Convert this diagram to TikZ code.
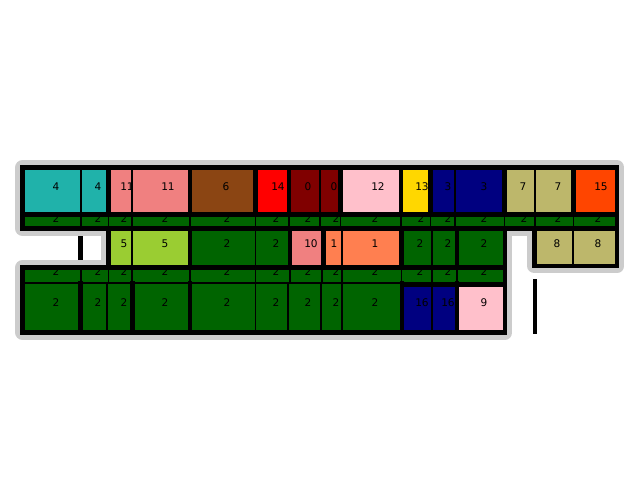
\documentclass[tikz,border=0pt]{standalone}
\usepackage{fontspec}
\setmainfont{DejaVu Sans}
\definecolor{cTeal}{HTML}{20B2AA}
\definecolor{cLCoral}{HTML}{F08080}
\definecolor{cBrown}{HTML}{8B4513}
\definecolor{cRed}{HTML}{FF0000}
\definecolor{cMaroon}{HTML}{800000}
\definecolor{cPink}{HTML}{FFC0CB}
\definecolor{cGold}{HTML}{FFD700}
\definecolor{cNavy}{HTML}{000080}
\definecolor{cKhaki}{HTML}{BDB76B}
\definecolor{cOrange}{HTML}{FF4500}
\definecolor{cYGreen}{HTML}{9ACD32}
\definecolor{cCoral}{HTML}{FF7F50}
\definecolor{cGreen}{HTML}{006400}
\begin{document}
\begin{tikzpicture}[x=0.02cm,y=-0.02cm,
    halo/.style={draw=gray!40,line width=8.4pt,line join=round},
    wall/.style={line width=2.8pt,line cap=rect},
    cell/.style={draw=black,line width=0.6pt},
    lbl/.style={font=\fontsize{6}{7}\selectfont,inner sep=0pt}]
        \useasboundingbox (0,0) rectangle (640,500);
        % grey halo round the plan
        \draw[halo] (22.5,167.5) -- (617,167.5) -- (617,266) -- (534.5,266) -- (534.5,228.5) -- (505,228.5) -- (505,332.5) -- (22.5,332.5) -- (22.5,267.5) -- (108.5,267.5) -- (108.5,228.5) -- (22.5,228.5) -- cycle;
        % top row of rooms
        \foreach \xa/\xb/\c/\lx/\t [count=\i] in {22.5/81/cTeal/56/4, 81/108.5/cTeal/98/4, 108.5/132/cLCoral/127/11, 132/190/cLCoral/168/11, 190/255.5/cBrown/226/6, 255.5/289/cRed/278/14, 289/320/cMaroon/308/0, 320/340.5/cMaroon/334/0, 340.5/401/cPink/378/12, 401/430.5/cGold/422/13, 430.5/455/cNavy/448/3, 455/504.5/cNavy/484/3, 504.5/535/cKhaki/523/7, 535/573.5/cKhaki/558/7, 573.5/617/cOrange/601/15} {
            \filldraw[cell,fill=\c] (\xa,167.5) rectangle (\xb,214.5);
            \node[lbl] (a\i) at (\lx,187) {\t};
        }
        % first corridor strip
        \foreach \xa/\xb/\lx [count=\i] in {22.5/81/56, 81/108.5/98, 108.5/132/124, 132/190/165, 190/255.5/227, 255.5/289/276, 289/320/308, 320/340.5/336, 340.5/401/375, 401/430.5/421, 430.5/455/448, 455/504.5/484, 504.5/535/524, 535/573.5/558, 573.5/617/598} {
            \filldraw[cell,fill=cGreen] (\xa,214.5) rectangle (\xb,228.5);
            \node[lbl] (s\i) at (\lx,218.5) {2};
        }
        % middle row
        \foreach \xa/\xb/\c/\lx/\t [count=\i] in {108.5/132/cYGreen/124/5, 132/190/cYGreen/165/5, 190/255.5/cGreen/227/2, 255.5/290/cGreen/276/2, 290/323.5/cLCoral/311/10, 323.5/342/cCoral/334/1, 342/401.5/cCoral/375/1, 401.5/432/cGreen/420/2, 432/457/cGreen/448/2, 457/505/cGreen/484/2, 534.5/573/cKhaki/557/8, 573/617/cKhaki/598/8} {
            \filldraw[cell,fill=\c] (\xa,228.5) rectangle (\xb,267.5);
            \node[lbl] (b\i) at (\lx,244) {\t};
        }
        % second corridor strip
        \foreach \xa/\xb/\lx [count=\i] in {22.5/81/56, 81/108.5/98, 108.5/132/124, 132/190/165, 190/255.5/227, 255.5/290/276, 290/322/308, 322/342/336, 342/401.5/375, 401.5/432/420, 432/457/448, 457/505/484} {
            \filldraw[cell,fill=cGreen] (\xa,267.5) rectangle (\xb,283);
            \node[lbl] (t\i) at (\lx,271.5) {2};
        }
        % bottom row
        \foreach \xa/\xb/\c/\lx/\t [count=\i] in {22.5/80.5/cGreen/56/2, 80.5/107/cGreen/98/2, 107/132.5/cGreen/124/2, 132.5/190/cGreen/165/2, 190/255.5/cGreen/227/2, 255.5/288/cGreen/276/2, 288/321/cGreen/308/2, 321/342/cGreen/336/2, 342/402/cGreen/375/2, 402/432/cNavy/422/16, 432/457/cNavy/448/16, 457/505/cPink/484/9} {
            \filldraw[cell,fill=\c] (\xa,283) rectangle (\xb,332.5);
            \node[lbl] (c\i) at (\lx,303) {\t};
        }
        % walls
        \draw[wall] (22.5,214.5) -- (617,214.5);
        \draw[wall] (22.5,228.5) -- (617,228.5);
        \draw[wall] (108.5,267.5) -- (505,267.5);
        \draw[wall] (402,284.5) -- (505,284.5);
        \foreach \x in {108.5,190,255.5,289,340.5,401,430.5,504.5,573.5}
            \draw[wall] (\x,167.5) -- (\x,214.5);
        \foreach \x in {190,290,323.5,401.5,457}
            \draw[wall] (\x,228.5) -- (\x,267.5);
        \foreach \x in {80.5,132.5,190,402,457}
            \draw[wall] (\x,283) -- (\x,332.5);
        \draw[wall,line width=1.6pt] (321,283) -- (321,332.5);
        \draw[wall,line join=miter] (22.5,167.5) -- (617,167.5) -- (617,266) -- (534.5,266) -- (534.5,228.5) -- (505,228.5) -- (505,332.5) -- (22.5,332.5) -- (22.5,267.5) -- (108.5,267.5) -- (108.5,228.5) -- (22.5,228.5) -- cycle;
        % loose wall pieces
        \draw[wall] (80.5,238) -- (80.5,258);
        \draw[wall] (535,281) -- (535,332);
    \end{tikzpicture}
\end{document}
